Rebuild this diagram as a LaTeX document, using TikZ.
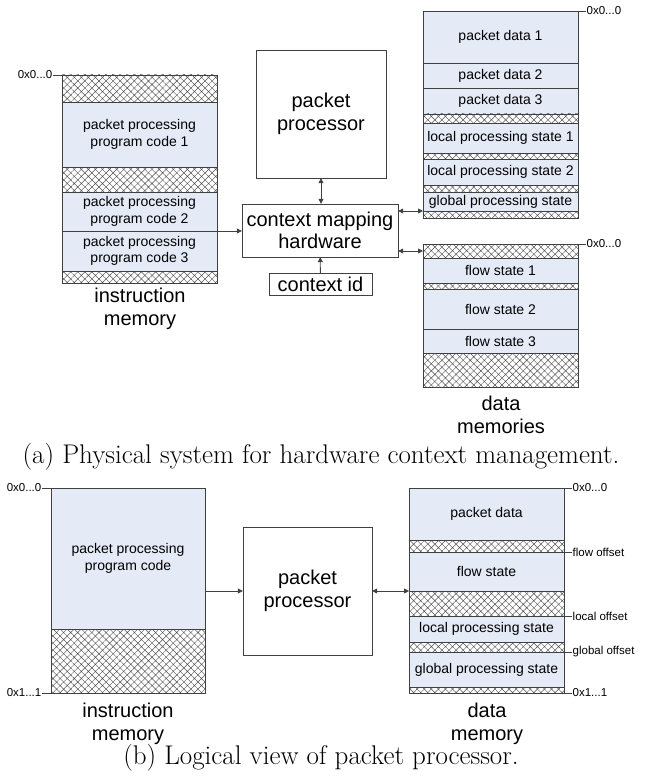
\documentclass[tikz,border=0pt]{standalone}
\usepackage{fontspec}
\newfontfamily\arialfont{Liberation Sans}
\usepackage{tikz}
\usetikzlibrary{arrows.meta,positioning,patterns.meta}

\definecolor{memfill}{RGB}{228,235,247}
\definecolor{edge}{RGB}{64,64,64}
\definecolor{hatchgray}{RGB}{80,80,80}

\begin{document}
\begin{tikzpicture}[
  x=1pt, y=-1pt,
  seg/.style={draw=edge, fill=memfill, minimum width=155pt, inner sep=0pt, outer sep=0pt,
    align=center, font=\arialfont\fontsize{14}{16.5}\selectfont},
  hatch/.style={draw=edge, pattern={Hatch[angle=45,distance=5pt,line width=0.45pt]},
    pattern color=hatchgray, minimum width=155pt, inner sep=0pt, outer sep=0pt},
  box/.style={draw=edge, fill=white, inner sep=1pt, align=center,
    font=\arialfont\fontsize{20}{22.5}\selectfont},
  lbl/.style={align=center, font=\arialfont\fontsize{20}{23}\selectfont},
  addr/.style={inner sep=0.5pt, font=\arialfont\fontsize{11.5}{13}\selectfont},
  capt/.style={font=\fontsize{27}{30}\selectfont},
  conn/.style={draw=edge, line width=0.8pt, -{Triangle[length=5pt,width=5pt]}},
  both/.style={draw=edge, line width=0.8pt, {Triangle[length=5pt,width=5pt]}-{Triangle[length=5pt,width=5pt]}}
]
\useasboundingbox (0,0) rectangle (647,781);

% (a) instruction memory
\node[hatch, minimum height=27pt, anchor=north west] (ih1) at (62,75) {};
\node[seg, minimum height=65pt, below=0pt of ih1] (ic1) {packet processing\\program code 1};
\node[hatch, minimum height=25pt, below=0pt of ic1] (ih2) {};
\node[seg, minimum height=39pt, below=0pt of ih2] (ic2) {packet processing\\program code 2};
\node[seg, minimum height=40pt, below=0pt of ic2] (ic3) {packet processing\\program code 3};
\node[hatch, minimum height=12pt, below=0pt of ic3] (ih3) {};
\node[addr, left=9pt of ih1.north west] (ia0) {0x0...0};
\node[lbl] (imem) at (140,308.5) {instruction\\memory};

% (a) processor and context mapping
\node[box, minimum width=130pt, minimum height=128pt] (pp) at (321,114) {packet\\processor};
\node[box, minimum width=156pt, minimum height=53pt] (cmh) at (320,230.5) {context mapping\\hardware};
\node[box, minimum width=103pt, minimum height=22pt] (ctx) at (320.5,284) {context id};

% (a) data memories
\node[seg, minimum height=52pt, anchor=north west] (pd1) at (423,11) {packet data 1};
\node[seg, minimum height=25pt, below=0pt of pd1] (pd2) {packet data 2};
\node[seg, minimum height=26pt, below=0pt of pd2] (pd3) {packet data 3};
\node[hatch, minimum height=9pt, below=0pt of pd3] (dh1) {};
\node[seg, minimum height=30pt, below=0pt of dh1] (lp1) {local processing state 1};
\node[hatch, minimum height=6pt, below=0pt of lp1] (dh2) {};
\node[seg, minimum height=26pt, below=0pt of dh2] (lp2) {local processing state 2};
\node[hatch, minimum height=7pt, below=0pt of lp2] (dh3) {};
\node[seg, minimum height=19pt, below=0pt of dh3] (gp) {global processing state};
\node[hatch, minimum height=7pt, below=0pt of gp] (dh4) {};
\node[addr, right=8pt of pd1.north east] (da0) {0x0...0};

\node[hatch, minimum height=14pt, anchor=north west] (fh1) at (423,244) {};
\node[seg, minimum height=25pt, below=0pt of fh1] (fs1) {flow state 1};
\node[hatch, minimum height=6pt, below=0pt of fs1] (fh2) {};
\node[seg, minimum height=40pt, below=0pt of fh2] (fs2) {flow state 2};
\node[seg, minimum height=24pt, below=0pt of fs2] (fs3) {flow state 3};
\node[hatch, minimum height=34pt, below=0pt of fs3] (fh3) {};
\node[addr, right=8pt of fh1.north east] (fa0) {0x0...0};
\node[lbl] (dmem) at (501,415) {data\\memories};

\node[capt] (capa) at (321,457) {(a) Physical system for hardware context management.};

% (b) instruction memory
\node[seg, minimum height=141pt, minimum width=154pt, anchor=north west] (bc) at (51,488) {packet processing\\program code};
\node[hatch, minimum height=64pt, minimum width=154pt, below=0pt of bc] (bh) {};
\node[addr, left=9pt of bc.north west] (ba0) {0x0...0};
\node[addr, left=9pt of bh.south west] (ba1) {0x1...1};
\node[lbl] (bimem) at (128,723.5) {instruction\\memory};

% (b) packet processor
\node[box, minimum width=129pt, minimum height=128pt] (bpp) at (307.5,591) {packet\\processor};

% (b) data memory
\node[seg, minimum height=52pt, anchor=north west] (bpd) at (409,488) {packet data};
\node[hatch, minimum height=12pt, below=0pt of bpd] (bdh1) {};
\node[seg, minimum height=39pt, below=0pt of bdh1] (bfs) {flow state};
\node[hatch, minimum height=25pt, below=0pt of bfs] (bdh2) {};
\node[seg, minimum height=26pt, below=0pt of bdh2] (blp) {local processing state};
\node[hatch, minimum height=10pt, below=0pt of blp] (bdh3) {};
\node[seg, minimum height=35pt, below=0pt of bdh3] (bgp) {global processing state};
\node[hatch, minimum height=6pt, below=0pt of bgp] (bdh4) {};
\node[addr, right=8pt of bpd.north east] (bd0) {0x0...0};
\node[addr, right=8pt of bfs.north east] (bfo) {flow offset};
\node[addr, right=8pt of blp.north east] (blo) {local offset};
\node[addr, right=8pt of bgp.north east] (bgo) {global offset};
\node[addr, right=8pt of bdh4.south east] (bd1) {0x1...1};
\node[lbl] (bdmem) at (487,723.5) {data\\memory};

\node[capt] (capb) at (321,758) {(b) Logical view of packet processor.};

% Connections
\draw[conn] (ic2.south east) -- (ic2.south east -| cmh.west);
\draw[both] (pp.south) -- (pp.south |- cmh.north);
\draw[conn] (ctx) -- (cmh);
\draw[both] (dh4.north west -| cmh.east) -- (dh4.north west);
\draw[both] (fh1.west -| cmh.east) -- (fh1.west);
\draw[conn] (bpp.west -| bc.east) -- (bpp.west);
\draw[both] (bpp.east) -- (bpp.east -| bfs.south west);

% Address ticks
\draw[edge] (ia0) -- (ih1.north west);
\draw[edge] (da0) -- (pd1.north east);
\draw[edge] (fa0) -- (fh1.north east);
\draw[edge] (ba0) -- (bc.north west);
\draw[edge] (ba1) -- (bh.south west);
\draw[edge] (bd0) -- (bpd.north east);
\draw[edge] (bfo) -- (bfs.north east);
\draw[edge] (blo) -- (blp.north east);
\draw[edge] (bgo) -- (bgp.north east);
\draw[edge] (bd1) -- (bdh4.south east);
\end{tikzpicture}
\end{document}
